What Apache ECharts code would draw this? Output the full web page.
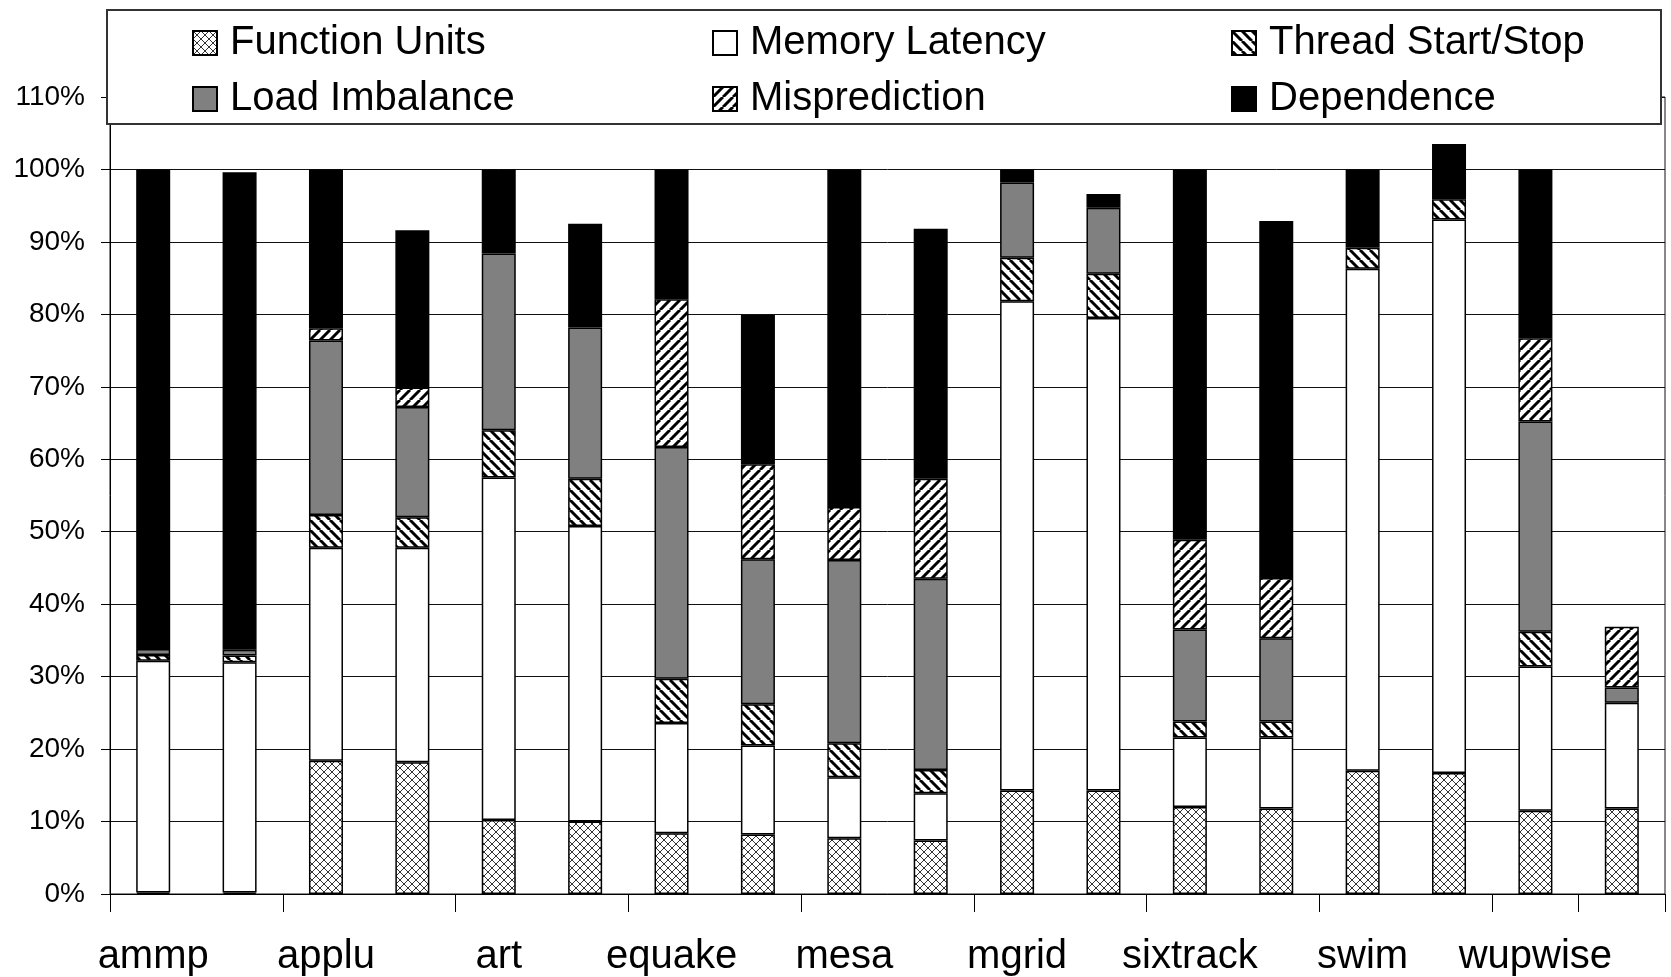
<!DOCTYPE html>
<html>
<head>
<meta charset="utf-8">
<script src="https://cdn.jsdelivr.net/npm/echarts@6/dist/echarts.min.js"></script>
<style>
  html, body { margin: 0; padding: 0; background: #fff; }
  #chart { width: 1671px; height: 977px; }
</style>
</head>
<body>
<div id="chart"></div>
<script>
// Benchmarks, each measured in two configurations (two bars per benchmark)
const benchmarks = ['ammp', 'applu', 'art', 'equake', 'mesa', 'mgrid', 'sixtrack', 'swim', 'wupwise'];

// Share of execution time (%) per component, two runs per benchmark
const functionUnits   = [0.2, 0.2, 18.4, 18.2, 10.2, 10.0, 8.4, 8.2, 7.7, 7.4, 14.3, 14.3, 12.0, 11.8, 17.0, 16.7, 11.5, 11.8];
const memoryLatency   = [32.0, 31.8, 29.4, 29.6, 47.3, 40.8, 15.2, 12.3, 8.4, 6.5, 67.5, 65.2, 9.6, 9.8, 69.3, 76.4, 19.9, 14.6];
const threadStartStop = [0.8, 0.9, 4.5, 4.2, 6.5, 6.5, 6.1, 5.7, 4.7, 3.2, 6.0, 6.1, 2.2, 2.2, 2.9, 2.8, 4.8, 0];
const loadImbalance   = [0.8, 0.8, 24.1, 15.2, 24.4, 20.9, 32.0, 20.0, 25.3, 26.4, 10.4, 9.1, 12.7, 11.5, 0, 0, 29.0, 2.1];
const misprediction   = [0, 0, 1.7, 2.7, 0, 0, 20.4, 13.1, 7.3, 13.8, 0, 0, 12.4, 8.3, 0, 0, 11.5, 8.4];
const dependence      = [66.2, 65.9, 21.9, 21.7, 11.6, 14.3, 17.9, 20.6, 46.6, 34.5, 1.8, 1.9, 51.1, 49.3, 10.8, 7.6, 23.3, 0];

const yTicks = [0, 10, 20, 30, 40, 50, 60, 70, 80, 90, 100, 110];

// Axis categories: the benchmark name sits under the first bar of each pair
const categories = [];
benchmarks.forEach(function (b) { categories.push(b, ''); });

// ---- fill patterns ----
function makeTile(size, draw) {
  const c = document.createElement('canvas');
  c.width = size; c.height = size;
  const g = c.getContext('2d');
  g.fillStyle = '#fff';
  g.fillRect(0, 0, size, size);
  draw(g, size);
  return { image: c, repeat: 'repeat' };
}
const crossHatch = makeTile(8, function (g, s) {
  g.strokeStyle = '#333';
  g.lineWidth = 1;
  g.beginPath();
  g.moveTo(0, 0); g.lineTo(s, s);
  g.moveTo(0, s); g.lineTo(s, 0);
  g.stroke();
});
const backHatch = makeTile(10, function (g, s) {
  g.strokeStyle = '#000';
  g.lineWidth = 3;
  g.beginPath();
  for (let k = -s; k <= s; k += s) { g.moveTo(k, 0); g.lineTo(k + s, s); }
  g.stroke();
});
const fwdHatch = makeTile(10, function (g, s) {
  g.strokeStyle = '#000';
  g.lineWidth = 3;
  g.beginPath();
  for (let k = -s; k <= s; k += s) { g.moveTo(k, s); g.lineTo(k + s, 0); }
  g.stroke();
});

const components = [
  { name: 'Function Units',    values: functionUnits,   fill: crossHatch },
  { name: 'Memory Latency',    values: memoryLatency,   fill: '#ffffff' },
  { name: 'Thread Start/Stop', values: threadStartStop, fill: backHatch },
  { name: 'Load Imbalance',    values: loadImbalance,   fill: '#808080' },
  { name: 'Misprediction',     values: misprediction,   fill: fwdHatch },
  { name: 'Dependence',        values: dependence,      fill: '#000000' }
];

const FONT = "'Liberation Sans', Arial, Helvetica, sans-serif";

const series = components.map(function (c) {
  return {
    name: c.name,
    type: 'bar',
    stack: 'total',
    barWidth: 34,
    data: c.values.map(function (v) { return v === 0 ? '-' : v; }),
    itemStyle: { color: c.fill, borderColor: '#000', borderWidth: 1.5 },
    emphasis: { disabled: true },
    animation: false
  };
});

// Legend: three columns of two entries
const legendCols = [
  { left: 192, items: ['Function Units', 'Load Imbalance'] },
  { left: 712, items: ['Memory Latency', 'Misprediction'] },
  { left: 1231, items: ['Thread Start/Stop', 'Dependence'] }
];
const legends = legendCols.map(function (col) {
  return {
    orient: 'vertical',
    left: col.left,
    top: 23,
    padding: 0,
    itemGap: 16,
    itemWidth: 24,
    itemHeight: 24,
    icon: 'rect',
    z: 200,
    selectedMode: false,
    data: col.items,
    textStyle: { fontFamily: FONT, fontSize: 40, color: '#000', padding: [0, 0, 0, 8] }
  };
});

const chart = echarts.init(document.getElementById('chart'), null, { renderer: 'canvas' });
chart.setOption({
  backgroundColor: '#fff',
  animation: false,
  grid: {
    left: 110, right: 6, top: 97, bottom: 82,
    show: true, borderColor: '#111', borderWidth: 1
  },
  legend: legends,
  graphic: [{
    type: 'rect',
    z: 100,
    shape: { x: 107, y: 10, width: 1554, height: 114 },
    style: { fill: '#fff', stroke: '#333', lineWidth: 2 }
  }],
  xAxis: {
    type: 'category',
    data: categories,
    boundaryGap: true,
    axisLine: { lineStyle: { color: '#000', width: 1 } },
    axisTick: { show: true, interval: 1, length: 18, lineStyle: { color: '#000' } },
    axisLabel: { interval: 0, margin: 43, fontFamily: FONT, fontSize: 40, color: '#000' },
    splitLine: { show: false }
  },
  yAxis: {
    type: 'value',
    min: yTicks[0],
    max: yTicks[yTicks.length - 1],
    interval: 10,
    axisLine: { show: true, lineStyle: { color: '#000', width: 1 } },
    axisTick: { show: true, length: 9, lineStyle: { color: '#000' } },
    axisLabel: { margin: 25, fontFamily: FONT, fontSize: 28, color: '#000', formatter: '{value}%' },
    splitLine: { show: true, lineStyle: { color: '#111', width: 1 } }
  },
  series: series
});
</script>
</body>
</html>
